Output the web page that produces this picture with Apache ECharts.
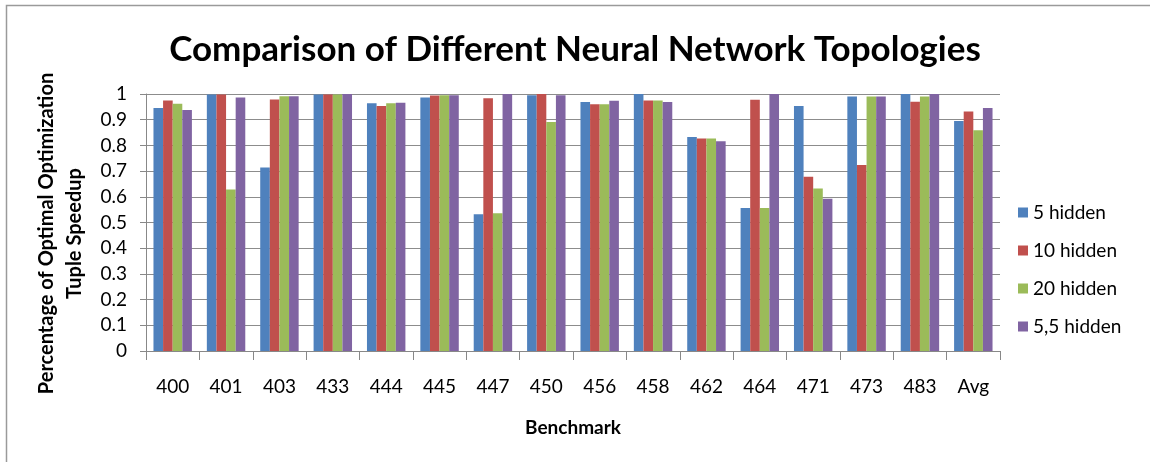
<!DOCTYPE html>
<html>
<head>
<meta charset="utf-8">
<script src="https://cdn.jsdelivr.net/npm/echarts@6/dist/echarts.min.js"></script>
<style>
    html, body {margin: 0; padding: 0; background: #fff;}
    #chart {width: 1150px; height: 462px;}
</style>
</head>
<body>
<div id="chart"></div>
<script>
const benchmarks = ['400', '401', '403', '433', '444', '445', '447', '450', '456', '458', '462', '464', '471', '473', '483', 'Avg'];
const hidden5 = [0.946, 0.998, 0.714, 0.998, 0.964, 0.986, 0.532, 0.995, 0.969, 1.0, 0.833, 0.556, 0.953, 0.990, 1.0, 0.895];
const hidden10 = [0.975, 0.998, 0.979, 0.998, 0.953, 0.994, 0.983, 1.0, 0.960, 0.975, 0.827, 0.978, 0.678, 0.724, 0.970, 0.932];
const hidden20 = [0.962, 0.628, 0.991, 0.998, 0.964, 0.995, 0.536, 0.891, 0.960, 0.975, 0.827, 0.556, 0.632, 0.990, 0.990, 0.859];
const hidden55 = [0.938, 0.986, 0.991, 1.0, 0.966, 0.995, 1.0, 0.995, 0.974, 0.969, 0.816, 1.0, 0.592, 0.990, 1.0, 0.946];
const yTicks = [0, 0.1, 0.2, 0.3, 0.4, 0.5, 0.6, 0.7, 0.8, 0.9, 1];

const font = 'Lato, "Open Sans", sans-serif';
const chart = echarts.init(document.getElementById('chart'));

function bar(name, data, color) {
    return {
        name: name,
        type: 'bar',
        data: data,
        barGap: '0%',
        barCategoryGap: '28%',
        animation: false,
        itemStyle: {color: color}
    };
}

chart.setOption({
    animation: false,
    graphic: [{
        type: 'rect',
        shape: {x: 6.5, y: 5.5, width: 1160, height: 470},
        style: {fill: 'none', stroke: '#9a9a9a', lineWidth: 1.5},
        silent: true
    }],
    title: {
        text: 'Comparison of Different Neural Network Topologies',
        left: 'center',
        top: 27,
        textStyle: {fontFamily: font, fontWeight: 'bold', fontSize: 35, color: '#000'}
    },
    legend: {
        orient: 'vertical',
        left: 1013,
        top: 198,
        itemWidth: 10,
        itemHeight: 10,
        itemGap: 19,
        icon: 'rect',
        textStyle: {fontFamily: font, fontSize: 19, color: '#000'},
        data: ['5 hidden', '10 hidden', '20 hidden', '5,5 hidden']
    },
    grid: {left: 146, right: 150, top: 94, bottom: 111},
    xAxis: {
        type: 'category',
        data: benchmarks,
        name: 'Benchmark',
        nameLocation: 'middle',
        nameGap: 67,
        nameTextStyle: {fontFamily: font, fontWeight: 'bold', fontSize: 19, color: '#000'},
        axisLine: {lineStyle: {color: '#888', width: 1}},
        axisTick: {show: true, length: 9, lineStyle: {color: '#888'}},
        axisLabel: {fontFamily: font, fontSize: 19, color: '#000', margin: 26}
    },
    yAxis: {
        type: 'value',
        min: 0,
        max: 1,
        interval: 0.1,
        name: 'Percentage of Optimal Optimization\nTuple Speedup',
        nameLocation: 'middle',
        nameGap: 57,
        nameTextStyle: {fontFamily: font, fontWeight: 'bold', fontSize: 20, color: '#000', lineHeight: 28, padding: [0, 22, 0, 0]},
        axisLine: {show: true, lineStyle: {color: '#888', width: 1}},
        axisTick: {show: true, length: 6, lineStyle: {color: '#888'}},
        axisLabel: {
            fontFamily: font, fontSize: 19, color: '#000', margin: 19,
            formatter: function (v) {
                const t = yTicks.find(x => Math.abs(x - v) < 1e-9);
                return t === undefined ? '' : String(t);
            }
        },
        splitLine: {show: true, lineStyle: {color: '#8c8c8c', width: 1}}
    },
    series: [
        bar('5 hidden', hidden5, '#4F81BD'),
        bar('10 hidden', hidden10, '#C0504D'),
        bar('20 hidden', hidden20, '#9BBB59'),
        bar('5,5 hidden', hidden55, '#8064A2')
    ]
});
</script>
</body>
</html>
